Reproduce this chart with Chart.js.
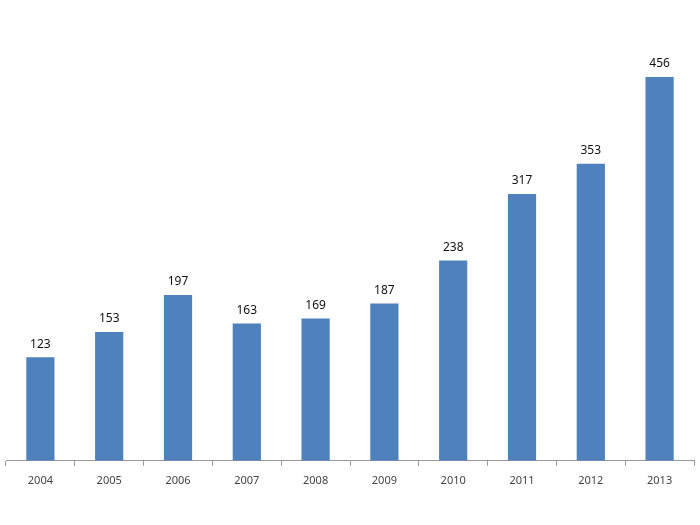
<!DOCTYPE html>
<html>
<head>
<meta charset="utf-8">
<script src="https://cdn.jsdelivr.net/npm/chart.js@4"></script>
<style>
  html, body { margin: 0; padding: 0; background: #fff; }
  #wrap { width: 700px; height: 525px; }
</style>
</head>
<body>
<div id="wrap"><canvas id="myChart"></canvas></div>
<script>
const years = ['2004', '2005', '2006', '2007', '2008', '2009', '2010', '2011', '2012', '2013'];
const counts = [123, 153, 197, 163, 169, 187, 238, 317, 353, 456];

// draw the numbers above each bar
const valueLabels = {
    id: 'valueLabels',
    afterDatasetsDraw(chart) {
        const ctx = chart.ctx;
        const meta = chart.getDatasetMeta(0);
        ctx.save();
        ctx.font = '12px "Noto Sans", sans-serif';
        ctx.fillStyle = '#111';
        ctx.textAlign = 'center';
        ctx.textBaseline = 'bottom';
        meta.data.forEach((bar, i) => {
            ctx.fillText(counts[i], bar.x, bar.y - 7);
        });
        ctx.restore();
    }
};

const ctx = document.getElementById('myChart');
new Chart(ctx, {
    type: 'bar',
    data: {
        labels: years,
        datasets: [{
            data: counts,
            backgroundColor: '#4F81BD',
            borderWidth: 0,
            barPercentage: 0.41,
            categoryPercentage: 1
        }]
    },
    options: {
        responsive: true,
        maintainAspectRatio: false,
        animation: false,
        layout: {
            padding: { top: 40, left: 6, right: 6, bottom: 30 }
        },
        plugins: {
            legend: { display: false },
            tooltip: { enabled: false }
        },
        scales: {
            y: {
                display: false,
                min: 0,
                max: 500
            },
            x: {
                border: { display: true, color: '#9a9a9a', width: 1 },
                grid: {
                    offset: true,
                    drawOnChartArea: false,
                    drawTicks: true,
                    tickLength: 5,
                    color: '#9a9a9a'
                },
                ticks: {
                    color: '#444',
                    padding: 8,
                    font: { family: '"Noto Sans", sans-serif', size: 11 }
                }
            }
        }
    },
    plugins: [valueLabels]
});
</script>
</body>
</html>
